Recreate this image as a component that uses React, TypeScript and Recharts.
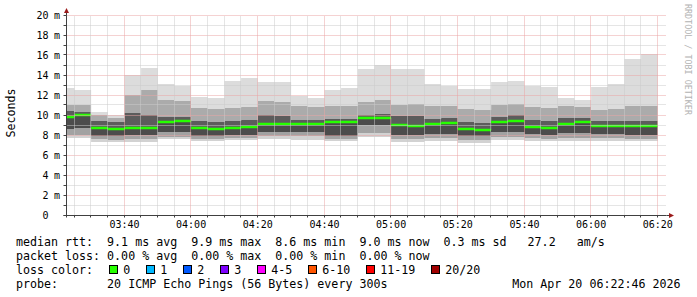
import { Area, ComposedChart, ReferenceDot, ReferenceLine, XAxis, YAxis } from "recharts";

const mono = '"DejaVu Sans Mono", monospace';

// graph window (rrdtool end = time of the snapshot)
const windowStart = "03:22:46";
const windowEnd = "06:22:46";

// 5 minute step starts; the last one only closes the final step
const binStart = [
  "03:20", "03:25", "03:30", "03:35", "03:40", "03:45", "03:50", "03:55",
  "04:00", "04:05", "04:10", "04:15", "04:20", "04:25", "04:30", "04:35",
  "04:40", "04:45", "04:50", "04:55", "05:00", "05:05", "05:10", "05:15",
  "05:20", "05:25", "05:30", "05:35", "05:40", "05:45", "05:50", "05:55",
  "06:00", "06:05", "06:10", "06:15", "06:20",
];

// smoke, ms (sorted ping bands per step)
const rttMax = [
  12.7, 12.5, 10.3, 10.0, 14.0, 14.7, 13.1, 12.9, 11.8, 11.7, 13.4, 13.7,
  13.3, 13.3, 11.9, 11.7, 12.5, 12.7, 14.6, 15.0, 14.6, 14.6, 13.1, 12.9,
  12.6, 12.6, 13.3, 13.4, 12.9, 12.8, 11.7, 11.5, 12.8, 13.1, 15.6, 16.1,
];
const rttHiMid = [
  11.0, 11.0, 10.0, 9.7, 12.0, 12.5, 11.5, 11.4, 10.7, 10.6, 10.7, 10.8,
  11.4, 11.3, 10.9, 10.8, 10.9, 10.9, 11.3, 11.5, 11.0, 11.1, 10.9, 10.9,
  10.6, 10.5, 11.0, 11.1, 10.8, 10.7, 10.9, 10.8, 10.5, 10.6, 10.9, 10.9,
];
const rttHiDark = [
  10.4, 10.3, 9.4, 9.3, 10.2, 10.0, 9.8, 9.8, 9.4, 9.3, 9.4, 9.5,
  10.0, 9.9, 9.5, 9.5, 9.6, 9.6, 10.0, 10.1, 9.9, 9.9, 9.6, 9.7,
  9.3, 9.2, 9.8, 10.0, 9.5, 9.4, 9.7, 9.7, 9.4, 9.4, 9.4, 9.4,
];
const rttMedian = [
  9.8, 10.0, 8.7, 8.6, 8.7, 8.7, 9.3, 9.4, 8.7, 8.6, 8.7, 8.8,
  9.1, 9.1, 9.1, 9.1, 9.3, 9.3, 9.7, 9.7, 9.0, 8.9, 9.1, 9.2,
  8.6, 8.5, 9.3, 9.4, 8.8, 8.7, 9.1, 9.3, 8.9, 8.9, 8.9, 8.9,
];
const rttLoDark = [
  8.6, 8.7, 7.9, 7.9, 8.0, 8.0, 8.3, 8.3, 7.9, 7.9, 8.0, 8.0,
  8.3, 8.3, 8.3, 8.3, 7.9, 7.9, 9.0, 9.0, 8.0, 8.0, 8.1, 8.1,
  7.9, 7.9, 8.3, 8.3, 8.1, 8.0, 8.2, 8.2, 8.1, 8.1, 8.0, 8.0,
];
const rttLo = [
  8.0, 8.0, 7.6, 7.5, 7.6, 7.6, 7.8, 7.8, 7.6, 7.6, 7.7, 7.7,
  7.9, 7.9, 7.9, 7.9, 7.6, 7.6, 8.2, 8.2, 7.6, 7.6, 7.7, 7.7,
  7.5, 7.5, 7.8, 7.8, 7.7, 7.6, 7.7, 7.7, 7.7, 7.7, 7.6, 7.6,
];
const rttMin = [
  7.7, 7.7, 7.3, 7.3, 7.3, 7.3, 7.6, 7.6, 7.4, 7.4, 7.5, 7.5,
  7.6, 7.6, 7.5, 7.5, 7.4, 7.4, 7.8, 7.8, 7.3, 7.3, 7.4, 7.4,
  7.2, 7.2, 7.5, 7.5, 7.4, 7.4, 7.4, 7.4, 7.4, 7.4, 7.4, 7.4,
];

const timeTicks = ["03:40", "04:00", "04:20", "04:40", "05:00", "05:20", "05:40", "06:00", "06:20"];
const yTicks = [0, 2, 4, 6, 8, 10, 12, 14, 16, 18, 20];
const yMinor = [1, 3, 5, 7, 9, 11, 13, 15, 17, 19];

const lossColors = [
  { label: "0", color: "#26ff00" },
  { label: "1", color: "#00b8ff" },
  { label: "2", color: "#0059ff" },
  { label: "3", color: "#7e00ff" },
  { label: "4-5", color: "#ff00ff" },
  { label: "6-10", color: "#ff5500" },
  { label: "11-19", color: "#ff0000" },
  { label: "20/20", color: "#a10000" },
];

const toMin = (s: string) => {
  const [h, m, sec = "0"] = s.split(":");
  return Number(h) * 60 + Number(m) + Number(sec) / 60;
};
const fmt = (v: number) => {
  const h = Math.floor(v / 60);
  const m = Math.round(v - h * 60);
  return `${String(h).padStart(2, "0")}:${String(m).padStart(2, "0")}`;
};

const t0 = toMin(windowStart);
const t1 = toMin(windowEnd);

const rows = binStart.map((s, i) => {
  const k = Math.min(i, rttMax.length - 1);
  return {
    t: toMin(s),
    max: rttMax[k],
    hiMid: rttHiMid[k],
    hiDark: rttHiDark[k],
    med: rttMedian[k],
    loDark: rttLoDark[k],
    lo: rttLo[k],
    min: rttMin[k],
  };
});

const majorT = timeTicks.map(toMin);
const minorT = binStart.map(toMin).filter((t) => t > t0 && !majorT.includes(t));

// median is drawn as a thin band, like smokeping does
const medHalf = 0.12;

const bands = [
  { lo: "min", hi: "lo", fill: "#d2d2d2" },
  { lo: "lo", hi: "loDark", fill: "#a2a2a2" },
  { lo: "loDark", hi: "med", fill: "#4c4c4c" },
  { lo: "med", hi: "hiDark", fill: "#5c5c5c" },
  { lo: "hiDark", hi: "hiMid", fill: "#ababab" },
  { lo: "hiMid", hi: "max", fill: "#dcdcdc" },
];

// pixel snapping so 1px dotted lines stay crisp, like rrdtool's
const sx = (x: number) => Math.floor(x - 0.3) + 0.5;
const sy = (y: number) => Math.floor(y) + 0.5;

const SnapLine = (p: any) => (
  <line
    x1={sx(p.x1)}
    y1={sy(p.y1)}
    x2={sx(p.x2)}
    y2={sy(p.y2)}
    stroke={p.stroke}
    strokeDasharray={p.strokeDasharray}
    strokeWidth={1}
  />
);

const YTick = (props: any) => {
  const { x, y, payload } = props;
  const v = payload.value;
  return (
    <g>
      <text x={x - 13.5} y={y} dy="0.36em" textAnchor="end" fontFamily={mono} fontSize={10} fill="#000">
        {v}
      </text>
      {v !== 0 && (
        <text x={x - 8} y={y} dy="0.36em" fontFamily={mono} fontSize={10} fill="#000">
          m
        </text>
      )}
    </g>
  );
};

const UpArrow = (p: any) => {
  const x = sx(p.cx);
  const y = sy(p.cy);
  return (
    <g>
      <line x1={x} y1={y} x2={x} y2={y - 4} stroke="#404040" />
      <polygon points={`${x - 2.5},${y - 2.5} ${x + 2.5},${y - 2.5} ${x},${y - 7.5}`} fill="#9b1b1b" />
    </g>
  );
};
const RightArrow = (p: any) => {
  const x = sx(p.cx);
  const y = sy(p.cy);
  return (
    <g>
      <line x1={x} y1={y} x2={x + 4} y2={y} stroke="#404040" />
      <polygon points={`${x + 2.5},${y - 2.5} ${x + 2.5},${y + 2.5} ${x + 7.5},${y}`} fill="#9b1b1b" />
    </g>
  );
};

const minorGrid = { stroke: "#cacaca", strokeDasharray: "1 1", shape: SnapLine };
const majorGrid = { stroke: "#eaa4a4", strokeDasharray: "1 1", shape: SnapLine };
const axisInk = "#404040";

export default function App() {
  return (
    <div style={{ position: "absolute", left: 0, top: 0, width: 697, height: 297, background: "#fff", fontFamily: mono }}>
      <ComposedChart width={697} height={230} data={rows} margin={{ top: 15, right: 30, bottom: 0, left: 7 }}>
        <XAxis
          dataKey="t"
          type="number"
          domain={[t0, t1]}
          allowDataOverflow
          ticks={majorT}
          interval={0}
          tickFormatter={fmt}
          tickSize={3}
          tickMargin={3}
          height={15}
          tick={{ fontFamily: mono, fontSize: 10, fill: "#000" }}
          tickLine={false}
          axisLine={false}
        />
        <YAxis
          type="number"
          domain={[0, 20]}
          ticks={yTicks}
          interval={0}
          width={60}
          tickSize={3}
          tickMargin={2}
          tick={<YTick />}
          tickLine={false}
          axisLine={false}
        />
        {bands.map((b) => (
          <Area
            key={b.lo + b.hi}
            type="stepAfter"
            dataKey={(d: any) => [d[b.lo], d[b.hi]]}
            stroke="none"
            fill={b.fill}
            fillOpacity={1}
            dot={false}
            activeDot={false}
            isAnimationActive={false}
          />
        ))}
        <Area
          type="stepAfter"
          dataKey={(d: any) => [d.med - medHalf, d.med + medHalf]}
          stroke="none"
          fill={lossColors[0].color}
          fillOpacity={1}
          dot={false}
          activeDot={false}
          isAnimationActive={false}
        />
        {yMinor.map((v) => (
          <ReferenceLine key={"hy" + v} y={v} {...minorGrid} />
        ))}
        {yTicks.filter((v) => v > 0).map((v) => (
          <ReferenceLine key={"my" + v} y={v} {...majorGrid} />
        ))}
        {minorT.map((t) => (
          <ReferenceLine key={"hx" + t} x={t} {...minorGrid} />
        ))}
        {majorT.map((t) => (
          <ReferenceLine key={"mx" + t} x={t} {...majorGrid} />
        ))}
        {/* axes and their tick marks */}
        <ReferenceLine segment={[{ x: t0 - 1, y: 0 }, { x: t1, y: 0 }]} ifOverflow="visible" stroke={axisInk} shape={SnapLine} />
        <ReferenceLine segment={[{ x: t0, y: -0.3 }, { x: t0, y: 20 }]} ifOverflow="visible" stroke={axisInk} shape={SnapLine} />
        {[...minorT, ...majorT].map((t) => (
          <ReferenceLine
            key={"tx" + t}
            segment={[{ x: t, y: 0 }, { x: t, y: -0.3 }]}
            ifOverflow="visible"
            stroke={axisInk}
            shape={SnapLine}
          />
        ))}
        {[...yMinor, ...yTicks].map((v) => (
          <ReferenceLine
            key={"ty" + v}
            segment={[{ x: t0 - 0.9, y: v }, { x: t0, y: v }]}
            ifOverflow="visible"
            stroke={axisInk}
            shape={SnapLine}
          />
        ))}
        <ReferenceDot x={t0} y={20} ifOverflow="visible" shape={UpArrow} />
        <ReferenceDot x={t1} y={0} ifOverflow="visible" shape={RightArrow} />
      </ComposedChart>

      <div
        style={{
          position: "absolute",
          left: 11,
          top: 113,
          transform: "translate(-50%, -50%) rotate(-90deg)",
          fontSize: 11.65,
          whiteSpace: "nowrap",
          color: "#000",
        }}
      >
        Seconds
      </div>
      <div
        style={{
          position: "absolute",
          left: 683,
          top: 4,
          writingMode: "vertical-rl",
          fontSize: 8.4,
          lineHeight: "10px",
          color: "#b3b3b3",
          whiteSpace: "nowrap",
        }}
      >
        RRDTOOL / TOBI OETIKER
      </div>

      <div
        style={{
          position: "absolute",
          left: 16,
          top: 234.5,
          fontSize: 11.65,
          lineHeight: "14.2px",
          whiteSpace: "pre",
          color: "#000",
        }}
      >
        <div>median rtt:  9.1 ms avg  9.9 ms max  8.6 ms min  9.0 ms now  0.3 ms sd   27.2   am/s</div>
        <div>packet loss: 0.00 % avg  0.00 % max  0.00 % min  0.00 % now</div>
        <div>
          <span style={{ marginRight: 15.5 }}>loss color:</span>
          {lossColors.map((c) => (
            <span key={c.label} style={{ marginRight: 15.4 }}>
              <span
                style={{
                  display: "inline-block",
                  width: 7,
                  height: 7,
                  border: "1px solid #000",
                  background: c.color,
                  marginRight: 5.6,
                }}
              />
              {c.label}
            </span>
          ))}
        </div>
        <div>probe:       20 ICMP Echo Pings (56 Bytes) every 300s</div>
      </div>
      <div
        style={{
          position: "absolute",
          left: 512.3,
          top: 234.5 + 3 * 14.2,
          fontSize: 11.65,
          lineHeight: "14.2px",
          whiteSpace: "pre",
          color: "#000",
        }}
      >
        Mon Apr 20 06:22:46 2026
      </div>
    </div>
  );
}
